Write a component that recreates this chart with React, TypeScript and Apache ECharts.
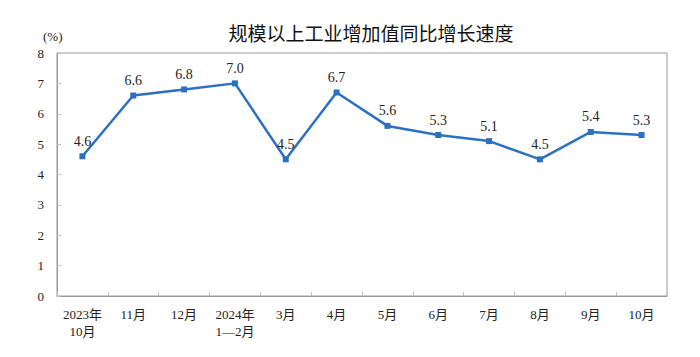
import React, { useEffect, useRef } from "react";
import * as echarts from "echarts";

const categories = ["2023年\n10月", "11月", "12月", "2024年\n1—2月", "3月", "4月", "5月", "6月", "7月", "8月", "9月", "10月"];
const values = [4.6, 6.6, 6.8, 7.0, 4.5, 6.7, 5.6, 5.3, 5.1, 4.5, 5.4, 5.3];
const yTicks = [0, 1, 2, 3, 4, 5, 6, 7, 8];
const titleText = "规模以上工业增加值同比增长速度";
const unitText = "(%)";

export default function App() {
  const ref = useRef<HTMLDivElement>(null);
  useEffect(() => {
    if (!ref.current) return;
    const chart = echarts.init(ref.current, null, { renderer: "svg" });
    const serif = "'Liberation Serif', 'Times New Roman', 'Noto Sans CJK SC', serif";
    chart.setOption({
      animation: false,
      backgroundColor: "#ffffff",
      title: {
        text: titleText,
        left: 366,
        top: 18,
        textAlign: "center",
        textStyle: { fontFamily: "'Noto Sans CJK SC', sans-serif", fontSize: 19, fontWeight: "normal", color: "#111" },
      },
      graphic: [
        {
          type: "text",
          left: 43,
          top: 30,
          style: { text: unitText, fontFamily: serif, fontSize: 13, fill: "#222" },
        },
        {
          type: "rect",
          shape: { x: 57, y: 53, width: 610, height: 243 },
          style: { fill: "none", stroke: "#999", lineWidth: 1 },
          silent: true,
        },
      ],
      grid: { left: 57, right: 33, top: 53, bottom: 61 },
      xAxis: {
        type: "category",
        data: categories,
        boundaryGap: true,
        axisLine: { show: true, lineStyle: { color: "#999", width: 1 } },
        axisTick: { show: true, inside: true, length: 4, alignWithLabel: false, lineStyle: { color: "#bbb" } },
        axisLabel: { fontFamily: serif, fontSize: 13, color: "#222", margin: 10, lineHeight: 17, interval: 0 },
        splitLine: { show: false },
      },
      yAxis: {
        type: "value",
        min: 0,
        max: 8,
        interval: 1,
        axisLine: { show: true, lineStyle: { color: "#999", width: 1 } },
        axisTick: { show: true, inside: true, length: 4, lineStyle: { color: "#bbb" } },
        axisLabel: {
          fontFamily: serif,
          fontSize: 13,
          color: "#222",
          margin: 13,
          formatter: (v: number) => (yTicks.includes(v) ? String(v) : ""),
        },
        splitLine: { show: false },
      },
      series: [
        {
          type: "line",
          data: values,
          symbol: "rect",
          symbolSize: 6,
          itemStyle: { color: "#2e70c0" },
          lineStyle: { color: "#2e70c0", width: 2.5 },
          label: {
            show: true,
            position: "top",
            distance: 5,
            fontFamily: serif,
            fontSize: 14,
            color: "#222",
            formatter: (p: any) => Number(p.value).toFixed(1),
          },
        },
      ],
    });
    return () => chart.dispose();
  }, []);
  return <div ref={ref} style={{ width: 700, height: 357, margin: -8 }} />;
}
